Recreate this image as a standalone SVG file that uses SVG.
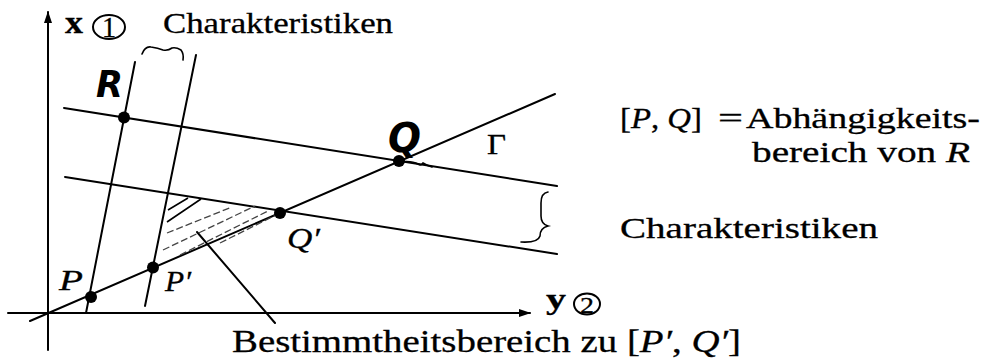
<svg xmlns="http://www.w3.org/2000/svg" width="984" height="362" viewBox="0 0 984 362">
<defs>
<style>
.ln{stroke:#000;stroke-width:2;fill:none;stroke-linecap:round}
.thin{stroke:#000;stroke-width:1.6;fill:none;stroke-linecap:round}
.hatch{stroke:#000;stroke-width:1.6;fill:none}
.hatchd{stroke:#444;stroke-width:1.3;fill:none;stroke-dasharray:7 3}
.dot{fill:#000}
.t{font-family:"Liberation Serif","DejaVu Serif",serif;fill:#000;stroke:#000;stroke-width:0.3}
.it{font-style:italic}
.b{font-weight:bold}
.hand{font-family:"DejaVu Sans","Liberation Sans",sans-serif;font-weight:bold;font-style:italic;fill:#000}
</style>
<marker id="arr" viewBox="0 0 12 8" refX="11" refY="4" markerWidth="12" markerHeight="8" markerUnits="userSpaceOnUse" orient="auto">
<path d="M0,0 L12,4 L0,8 Z" fill="#000"/>
</marker>
</defs>
<rect width="984" height="362" fill="#fff"/>

<g id="axes">
<line class="ln" x1="48" y1="350" x2="48" y2="12" marker-end="url(#arr)"/>
<line class="ln" x1="8" y1="313" x2="530" y2="313" marker-end="url(#arr)"/>
<text class="t b" x="65" y="33" font-size="31" textLength="18" lengthAdjust="spacingAndGlyphs">x</text>
<ellipse cx="109" cy="27" rx="16" ry="12" fill="none" stroke="#000" stroke-width="2"/>
<text class="t" x="109" y="37" font-size="29" text-anchor="middle" textLength="14" lengthAdjust="spacingAndGlyphs">1</text>
<text class="t b" x="546" y="309" font-size="30" textLength="20" lengthAdjust="spacingAndGlyphs">y</text>
<ellipse cx="587" cy="304" rx="13" ry="10.5" fill="none" stroke="#000" stroke-width="2"/>
<text class="t" x="587" y="312.5" font-size="24" text-anchor="middle" textLength="14" lengthAdjust="spacingAndGlyphs">2</text>
</g>

<g id="connectors">
<line class="ln" x1="135" y1="62" x2="86" y2="313"/>
<line class="ln" x1="196" y1="55" x2="145" y2="306"/>
<line class="ln" x1="64" y1="108" x2="557" y2="186"/>
<line class="ln" x1="65" y1="177" x2="557" y2="254"/>
<line class="ln" x1="30" y1="321" x2="555" y2="94"/>
<line class="ln" x1="197" y1="232" x2="275" y2="323"/>
</g>

<g id="hatched-region">
<path class="hatch" d="M168,210 L188,198 M167,222 L201,199"/>
<path class="hatchd" d="M167,233 L232,207 M163,250 L255,206 M180,255 L268,211 M220,243 L278,214"/>
</g>

<g id="braces">
<path class="thin" d="M142,54 Q145,46 151,47 Q158,48 163,50 Q168,51 172,48 Q176,47 181,50 Q184,54 183,60"/>
<path class="thin" d="M548,192 Q541,193 541,203 L541,216 Q541,224 548,226 Q540,228 540,236 Q538,243 521,242"/>
<path class="thin" d="M404,161.5 Q413,161 418,164 Q421,166 423,163 Q426,165 432,167"/>
</g>

<g id="points">
<circle class="dot" cx="124" cy="117.5" r="6"/>
<circle class="dot" cx="399" cy="161" r="6"/>
<circle class="dot" cx="91" cy="297" r="6"/>
<circle class="dot" cx="153" cy="267.5" r="6"/>
<circle class="dot" cx="280" cy="213" r="6"/>
</g>

<g id="labels">
<text class="t" x="163" y="33" font-size="29" textLength="230" lengthAdjust="spacingAndGlyphs">Charakteristiken</text>
<text class="hand" x="96" y="97" font-size="38" textLength="27" lengthAdjust="spacingAndGlyphs">R</text>
<text class="hand" x="388" y="152" font-size="40" textLength="33" lengthAdjust="spacingAndGlyphs">Q</text>
<text class="t" x="487" y="154" font-size="29" textLength="19" lengthAdjust="spacingAndGlyphs">Γ</text>
<text class="t it" x="59" y="290" font-size="30" textLength="24" lengthAdjust="spacingAndGlyphs">P</text>
<text class="t it" x="165" y="291" font-size="30" textLength="26" lengthAdjust="spacingAndGlyphs">P′</text>
<text class="t it" x="287" y="248" font-size="30" textLength="33" lengthAdjust="spacingAndGlyphs">Q′</text>
</g>

<g id="legend">
<text class="t" x="620" y="128" font-size="29" textLength="82" lengthAdjust="spacingAndGlyphs">[<tspan class="it">P</tspan>, <tspan class="it">Q</tspan>]</text>
<text class="t" x="718" y="128" font-size="29" textLength="25" lengthAdjust="spacingAndGlyphs">=</text>
<text class="t" x="746" y="128" font-size="29" textLength="234" lengthAdjust="spacingAndGlyphs">Abhängigkeits-</text>
<text class="t" x="752" y="162" font-size="29" textLength="218" lengthAdjust="spacingAndGlyphs">bereich von <tspan class="it">R</tspan></text>
<text class="t" x="620" y="238" font-size="29" textLength="258" lengthAdjust="spacingAndGlyphs">Charakteristiken</text>
<text class="t" x="232" y="352" font-size="31" textLength="509" lengthAdjust="spacingAndGlyphs">Bestimmtheitsbereich zu [<tspan class="it">P′</tspan>, <tspan class="it">Q′</tspan>]</text>
</g>
</svg>
